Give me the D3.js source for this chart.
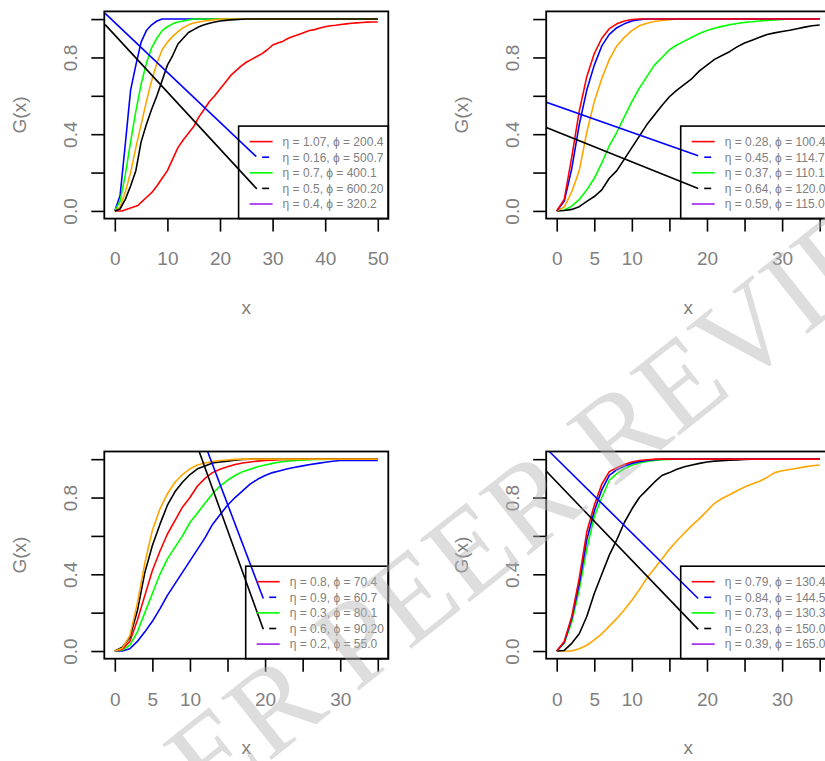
<!DOCTYPE html>
<html><head><meta charset="utf-8">
<script src="https://cdn.jsdelivr.net/npm/d3@7"></script>
<style>body{margin:0;background:#fff;} svg{display:block;}</style>
</head><body>
<svg id="c" width="825" height="761"></svg>
<script>
// ---------------- DATA ----------------
const yTicks = [0, 0.2, 0.4, 0.6, 0.8, 1.0];
const yTickLabels = [0, 0.4, 0.8];
const p1XTicks = [0, 10, 20, 30, 40, 50];
const p1XTickLabels = [0, 10, 20, 30, 40, 50];
const pXTicks = [0, 5, 10, 15, 20, 25, 30, 35];
const pXTickLabels = [0, 5, 10, 20, 30];

// Panel 1 (top-left)
const p1Red = [[0,0],[1.3,0],[4.4,0.028],[5,0.045],[6,0.07],[7,0.095],[8,0.13],[9,0.17],[10,0.21],[11,0.27],[12,0.33],[13,0.37],[14,0.405],[15,0.44],[16,0.49],[17,0.53],[18,0.57],[19,0.6],[20,0.635],[21,0.67],[22,0.705],[23,0.73],[24,0.755],[25,0.775],[26,0.79],[27,0.805],[28,0.82],[29,0.84],[30,0.865],[31,0.875],[32,0.885],[33,0.9],[34,0.91],[35,0.92],[36,0.93],[37,0.94],[38,0.945],[39,0.953],[40,0.96],[41,0.965],[42,0.968],[43,0.972],[44,0.975],[45,0.978],[46,0.98],[47,0.982],[48,0.984],[49,0.985],[50,0.985]];
const p1Blue = [[0,0],[1,0.08],[2,0.35],[3,0.63],[4,0.76],[5,0.88],[6,0.94],[7,0.97],[8,0.99],[9,1],[50,1]];
const p1Green = [[0,0],[1,0.05],[2,0.19],[3,0.36],[4,0.52],[5,0.66],[6,0.77],[7,0.85],[8,0.9],[9,0.94],[10,0.96],[11,0.975],[12,0.985],[13,0.99],[14,0.995],[15,1],[50,1]];
const p1Orange = [[0,0],[1,0.02],[2,0.1],[3,0.2],[4,0.33],[5,0.45],[6,0.57],[7,0.68],[8,0.77],[9,0.84],[10,0.88],[11,0.91],[12,0.935],[13,0.955],[14,0.97],[15,0.98],[16,0.985],[17,0.99],[18,0.993],[20,1],[50,1]];
const p1Black = [[0,0],[1,0.01],[2,0.06],[3,0.13],[4,0.21],[5,0.36],[6,0.45],[7,0.53],[8,0.6],[9,0.68],[10,0.76],[11,0.81],[12,0.87],[13,0.9],[14,0.93],[15,0.945],[16,0.96],[17,0.97],[18,0.978],[19,0.985],[20,0.99],[22,0.996],[25,1],[50,1]];
const p1LongBlue = [[-1.84,1.03],[26.9,0.283]];
const p1LongBlack = [[-1.84,0.971],[27.0,0.115]];
const p1Legend = ["η = 1.07, ϕ = 200.4","η = 0.16, ϕ = 500.7","η = 0.7, ϕ = 400.1","η = 0.5, ϕ = 600.20","η = 0.4, ϕ = 320.2"];

// Panel 2 (top-right)
const p2Red = [[0,0],[1,0.06],[2,0.28],[3,0.52],[4,0.7],[5,0.82],[6,0.9],[7,0.95],[8,0.975],[9,0.99],[10,0.998],[11,1],[35,1]];
const p2Blue = [[0,0],[1,0.05],[2,0.22],[3,0.45],[4,0.63],[5,0.76],[6,0.86],[7,0.92],[8,0.955],[9,0.975],[10,0.99],[11,0.997],[12,1],[35,1]];
const p2Orange = [[0,0],[1,0.02],[2,0.1],[3,0.21],[4,0.41],[5,0.57],[6,0.69],[7,0.79],[8,0.86],[9,0.905],[10,0.94],[11,0.965],[12,0.978],[13,0.987],[14,0.993],[15,0.997],[16,1],[35,1]];
const p2Green = [[0,0],[1,0.005],[2,0.025],[3,0.06],[4,0.11],[5,0.17],[6,0.25],[7,0.34],[8,0.41],[9,0.49],[10,0.57],[11,0.64],[12,0.7],[13,0.76],[14,0.8],[15,0.84],[16,0.865],[17,0.885],[18,0.905],[19,0.925],[20,0.94],[21,0.952],[22,0.962],[23,0.97],[24,0.977],[25,0.983],[26,0.986],[27,0.99],[28,0.993],[29,0.996],[30,0.998],[31,1],[35,1]];
const p2Black = [[0,0],[1,0.002],[2,0.008],[3,0.022],[4,0.05],[5,0.075],[6,0.11],[7,0.17],[8,0.21],[9,0.27],[10,0.33],[11,0.39],[12,0.45],[13,0.5],[14,0.55],[15,0.595],[16,0.63],[17,0.66],[18,0.69],[19,0.73],[20,0.76],[21,0.79],[22,0.81],[23,0.83],[24,0.855],[25,0.875],[26,0.89],[27,0.905],[28,0.92],[29,0.928],[30,0.935],[31,0.942],[32,0.95],[33,0.958],[34,0.965],[35,0.969]];
const p2LongBlue = [[-1.56,0.569],[18.83,0.287]];
const p2LongBlack = [[-1.56,0.438],[18.83,0.117]];
const p2Legend = ["η = 0.28, ϕ = 100.4","η = 0.45, ϕ = 114.7","η = 0.37, ϕ = 110.1","η = 0.64, ϕ = 120.0","η = 0.59, ϕ = 115.0"];

// Panel 3 (bottom-left)
const p3Orange = [[0,0],[1,0.015],[2,0.08],[3,0.25],[4,0.46],[5,0.63],[6,0.74],[7,0.82],[8,0.88],[9,0.92],[10,0.95],[11,0.97],[12,0.98],[13,0.988],[14,0.993],[15,0.996],[16,0.999],[17,1],[35,1]];
const p3Black = [[0,0],[1,0.02],[2,0.07],[3,0.21],[4,0.41],[5,0.55],[6,0.66],[7,0.76],[8,0.83],[9,0.88],[10,0.92],[11,0.95],[12,0.965],[13,0.98],[14,0.985],[15,0.99],[16,0.995],[17,0.998],[18,1],[35,1]];
const p3Red = [[0,0],[1,0.01],[2,0.05],[3,0.16],[4,0.29],[5,0.42],[6,0.52],[7,0.61],[8,0.68],[9,0.75],[10,0.8],[11,0.86],[12,0.9],[13,0.93],[14,0.948],[15,0.96],[16,0.972],[17,0.98],[18,0.985],[19,0.99],[20,0.993],[21,0.995],[22,0.997],[23,0.998],[25,1],[35,1]];
const p3Green = [[0,0],[1,0.005],[2,0.03],[3,0.1],[4,0.2],[5,0.3],[6,0.4],[7,0.48],[8,0.54],[9,0.6],[10,0.67],[11,0.72],[12,0.77],[13,0.82],[14,0.86],[15,0.89],[16,0.915],[17,0.935],[18,0.948],[19,0.96],[20,0.97],[21,0.978],[22,0.985],[23,0.99],[24,0.993],[25,0.995],[26,0.997],[27,0.998],[28,0.999],[29,1],[35,1]];
const p3Blue = [[0,0],[1,0],[2,0.012],[3,0.05],[4,0.1],[5,0.155],[6,0.22],[7,0.29],[8,0.35],[9,0.41],[10,0.47],[11,0.53],[12,0.59],[13,0.66],[14,0.71],[15,0.76],[16,0.8],[17,0.835],[18,0.87],[19,0.895],[20,0.915],[21,0.93],[22,0.94],[23,0.95],[24,0.958],[25,0.965],[26,0.972],[27,0.978],[28,0.984],[29,0.989],[30,0.993],[35,0.993]];
const p3LongBlue = [[12.3,1.045],[19.76,0.274]];
const p3LongBlack = [[11.18,1.045],[19.76,0.113]];
const p3Legend = ["η = 0.8, ϕ = 70.4","η = 0.9, ϕ = 60.7","η = 0.3, ϕ = 80.1","η = 0.6, ϕ = 90.20","η = 0.2, ϕ = 55.0"];

// Panel 4 (bottom-right)
const p4Red = [[0,0],[1,0.05],[2,0.18],[3,0.38],[4,0.62],[5,0.76],[6,0.87],[7,0.935],[8,0.955],[9,0.972],[10,0.985],[11,0.993],[12,0.997],[13,1],[35,1]];
const p4Blue = [[0,0],[1,0.045],[2,0.17],[3,0.35],[4,0.58],[5,0.73],[6,0.84],[7,0.915],[8,0.945],[9,0.963],[10,0.978],[11,0.987],[12,0.993],[13,0.997],[14,1],[35,1]];
const p4Green = [[0,0],[1,0.04],[2,0.15],[3,0.32],[4,0.53],[5,0.7],[6,0.8],[7,0.89],[8,0.925],[9,0.95],[10,0.968],[11,0.98],[12,0.988],[13,0.993],[14,0.997],[15,0.999],[16,1],[35,1]];
const p4Black = [[0,0],[1,0.003],[2,0.04],[3,0.09],[4,0.18],[5,0.3],[6,0.4],[7,0.5],[8,0.58],[9,0.67],[10,0.74],[11,0.8],[12,0.84],[13,0.88],[14,0.915],[15,0.93],[16,0.948],[17,0.96],[18,0.97],[19,0.978],[20,0.985],[21,0.99],[22,0.992],[23,0.994],[24,0.996],[25,0.998],[26,1],[35,1]];
const p4Orange = [[0,0],[1,0],[2,0],[3,0.012],[4,0.03],[5,0.058],[6,0.09],[7,0.13],[8,0.17],[9,0.215],[10,0.265],[11,0.32],[12,0.38],[13,0.43],[14,0.48],[15,0.53],[16,0.575],[17,0.615],[18,0.655],[19,0.69],[20,0.73],[21,0.77],[22,0.795],[23,0.815],[24,0.835],[25,0.855],[26,0.87],[27,0.885],[28,0.905],[29,0.93],[30,0.94],[31,0.946],[32,0.953],[33,0.96],[34,0.966],[35,0.97]];
const p4LongBlue = [[-1.12,1.045],[18.83,0.274]];
const p4LongBlack = [[-1.56,0.944],[18.83,0.113]];
const p4Legend = ["η = 0.79, ϕ = 130.4","η = 0.84, ϕ = 144.5","η = 0.73, ϕ = 130.3","η = 0.23, ϕ = 150.0","η = 0.39, ϕ = 165.0"];

const legendColors = ["#ff0000","#0000ff","#00ff00","#000000","#a020f0"];
const legendDashed = [false, true, false, true, false];
const watermarkText = "UNDER PEER REVIEW";

// ---------------- LAYOUT / STYLE ----------------
const FONT = "'Liberation Sans', Arial, Helvetica, sans-serif";
const GREY = "#808080";
const colLeft = [104.3, 546.2], rowTop = [11.4, 451.5];
const BOXW = 284, BOXH = 207.2;

const panels = [
  {col:0,row:0,xDom:[-2,52],xTicks:p1XTicks,xLab:p1XTickLabels,legend:p1Legend,legW:149.7,
   series:[[p1Red,"#ff0000"],[p1Blue,"#0000ff"],[p1Green,"#00ff00"],[p1Orange,"#ffa500"],[p1Black,"#000000"]],
   long:[[p1LongBlue,"#0000ff"],[p1LongBlack,"#000000"]]},
  {col:1,row:0,xDom:[-1.4,36.4],xTicks:pXTicks,xLab:pXTickLabels,legend:p2Legend,legW:149.5,
   series:[[p2Green,"#00ff00"],[p2Black,"#000000"],[p2Orange,"#ffa500"],[p2Blue,"#0000ff"],[p2Red,"#ff0000"]],
   long:[[p2LongBlue,"#0000ff"],[p2LongBlack,"#000000"]]},
  {col:0,row:1,xDom:[-1.4,36.4],xTicks:pXTicks,xLab:pXTickLabels,legend:p3Legend,legW:142.6,
   series:[[p3Blue,"#0000ff"],[p3Green,"#00ff00"],[p3Red,"#ff0000"],[p3Black,"#000000"],[p3Orange,"#ffa500"]],
   long:[[p3LongBlue,"#0000ff"],[p3LongBlack,"#000000"]]},
  {col:1,row:1,xDom:[-1.4,36.4],xTicks:pXTicks,xLab:pXTickLabels,legend:p4Legend,legW:149.5,
   series:[[p4Orange,"#ffa500"],[p4Black,"#000000"],[p4Green,"#00ff00"],[p4Blue,"#0000ff"],[p4Red,"#ff0000"]],
   long:[[p4LongBlue,"#0000ff"],[p4LongBlack,"#000000"]]}
];

const svg = d3.select("#c");
svg.append("rect").attr("width",825).attr("height",761).attr("fill","#fff");

panels.forEach((p, i) => {
  const x0 = colLeft[p.col], x1 = x0 + BOXW, y0 = rowTop[p.row], y1 = y0 + BOXH;
  const x = d3.scaleLinear().domain(p.xDom).range([x0, x1]);
  const y = d3.scaleLinear().domain([-0.04, 1.04]).range([y1, y0]);
  const g = svg.append("g");

  const clipId = "clip" + i;
  svg.append("clipPath").attr("id", clipId).append("rect")
    .attr("x", x0).attr("y", y0).attr("width", BOXW).attr("height", BOXH);

  const line = d3.line().x(d => x(d[0])).y(d => y(d[1]));
  const lg = g.append("g").attr("clip-path", `url(#${clipId})`);
  p.series.forEach(([data, col]) => {
    lg.append("path").attr("d", line(data)).attr("fill","none")
      .attr("stroke", col).attr("stroke-width", 1.6).attr("stroke-linejoin","round");
  });
  p.long.forEach(([data, col]) => {
    lg.append("path").attr("d", line(data)).attr("fill","none")
      .attr("stroke", col).attr("stroke-width", 1.6);
  });

  const xa = g.append("g").attr("transform", `translate(0,${y1})`)
    .call(d3.axisBottom(x).tickValues(p.xTicks).tickSize(13)
      .tickFormat(d => p.xLab.includes(d) ? d : ""));
  xa.select(".domain").remove();
  xa.selectAll(".tick line").attr("stroke","#000").attr("stroke-width",1.6);
  xa.selectAll(".tick text").attr("y", 40).attr("dy","0.36em")
    .attr("fill", GREY).attr("font-size", 19).attr("font-family", FONT);

  const ya = g.append("g").attr("transform", `translate(${x0},0)`)
    .call(d3.axisLeft(y).tickValues(yTicks).tickSize(13)
      .tickFormat(d => yTickLabels.some(v => Math.abs(v - d) < 1e-9) ? d3.format(".1f")(d) : ""));
  ya.select(".domain").remove();
  ya.selectAll(".tick line").attr("stroke","#000").attr("stroke-width",1.6);
  ya.selectAll(".tick text").attr("x", 0).attr("dy","0.36em")
    .attr("transform","translate(-34.3,0) rotate(-90)").attr("text-anchor","middle")
    .attr("fill", GREY).attr("font-size", 19).attr("font-family", FONT);

  g.append("rect").attr("x", x0).attr("y", y0).attr("width", BOXW).attr("height", BOXH)
    .attr("fill","none").attr("stroke","#000").attr("stroke-width",1.8);

  g.append("text").attr("transform", `translate(${x0-84.3},${(y0+y1)/2}) rotate(-90)`)
    .attr("dy","0.3em").attr("text-anchor","middle").attr("fill",GREY)
    .attr("font-size",19).attr("font-family",FONT).text("G(x)");
  g.append("text").attr("x",(x0+x1)/2).attr("y", y1+90.5).attr("dy","0.26em")
    .attr("text-anchor","middle").attr("fill",GREY)
    .attr("font-size",19).attr("font-family",FONT).text("x");

  const LH = 92.5;
  const leg = g.append("g").attr("transform", `translate(${x1-p.legW},${y1-LH})`);
  leg.append("rect").attr("width", p.legW).attr("height", LH)
    .attr("fill","none").attr("stroke","#000").attr("stroke-width",1.6);
  p.legend.forEach((t, k) => {
    const ry = 15.5 + k * 15.6;
    if (legendDashed[k]) {
      leg.append("line").attr("x1",23.5).attr("x2",30.5).attr("y1",ry).attr("y2",ry)
        .attr("stroke",legendColors[k]).attr("stroke-width",1.6);
    } else {
      leg.append("line").attr("x1",11).attr("x2",34).attr("y1",ry).attr("y2",ry)
        .attr("stroke",legendColors[k]).attr("stroke-width",1.6);
    }
    leg.append("text").attr("x",44).attr("y",ry).attr("dy","0.36em")
      .attr("fill",GREY).attr("font-size",12).attr("font-family",FONT).text(t);
  });
});

svg.append("text")
  .attr("transform","translate(468,552) rotate(-38.5)")
  .attr("text-anchor","middle").attr("dy","0.33em")
  .attr("font-family","'Liberation Serif', 'DejaVu Serif', serif")
  .attr("font-size",122).attr("fill","#b4b4b4").attr("fill-opacity",0.45)
  .text(watermarkText);
</script></body></html>
